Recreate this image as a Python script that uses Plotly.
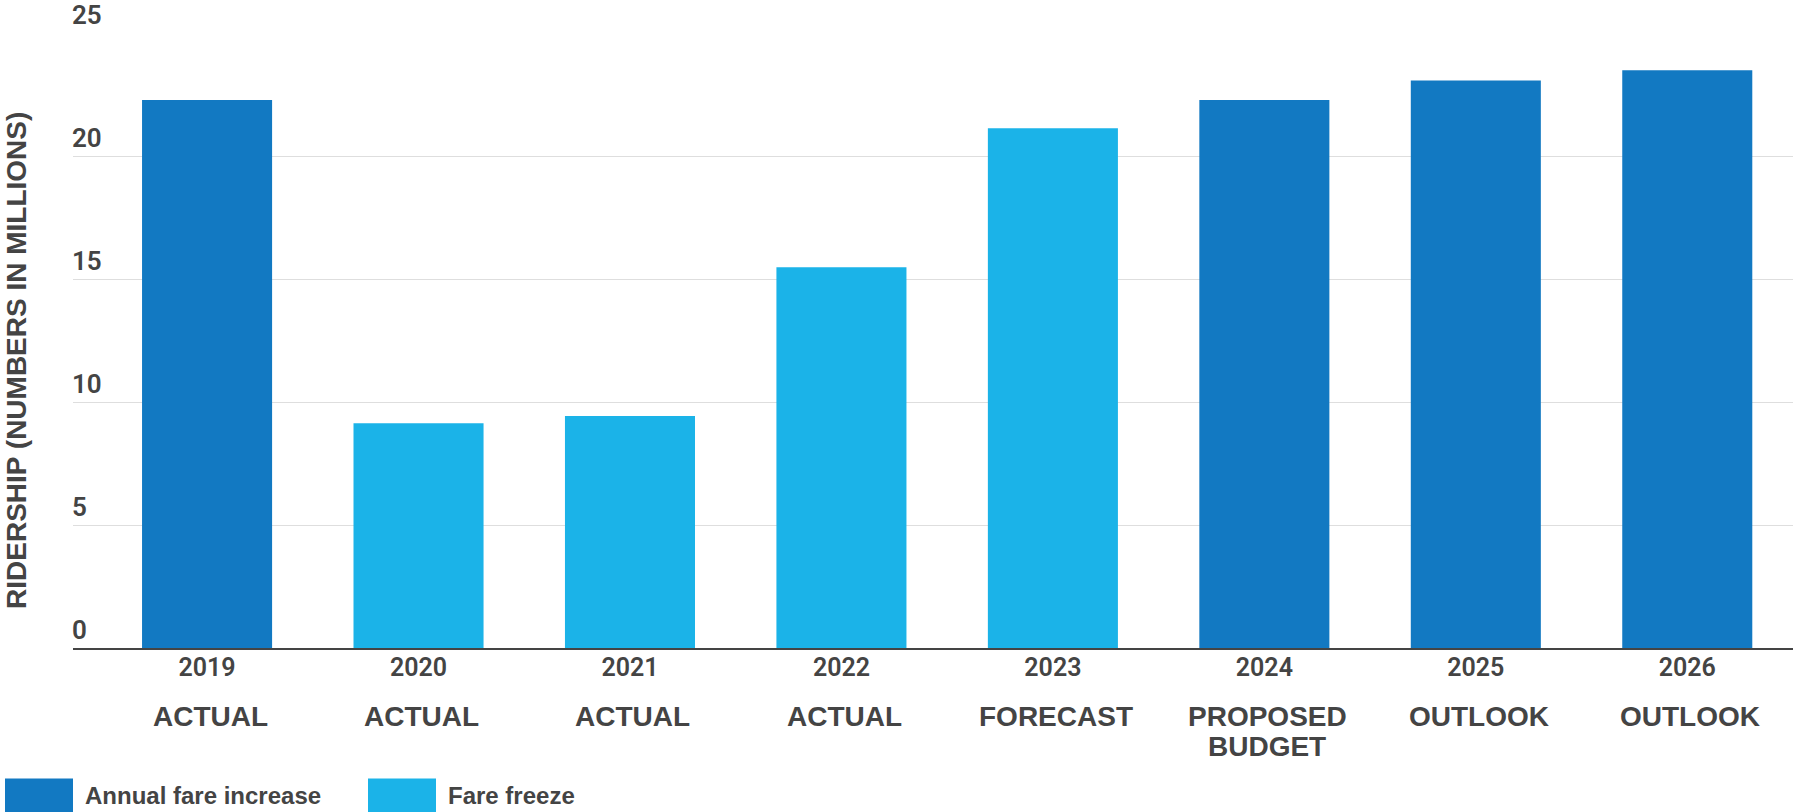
import plotly.graph_objects as go

# Annual ridership, millions of riders
years = ["2019", "2020", "2021", "2022", "2023", "2024", "2025", "2026"]
stages = [["ACTUAL"], ["ACTUAL"], ["ACTUAL"], ["ACTUAL"], ["FORECAST"],
          ["PROPOSED", "BUDGET"], ["OUTLOOK"], ["OUTLOOK"]]
ridership = [22.28, 9.14, 9.43, 15.48, 21.13, 22.28, 23.07, 23.49]
fare_policy = ["increase", "freeze", "freeze", "freeze", "freeze",
               "increase", "increase", "increase"]

y_ticks = [0, 5, 10, 15, 20, 25]
policy_names = {"increase": "Annual fare increase", "freeze": "Fare freeze"}
policy_colors = {"increase": "#1279C2", "freeze": "#1BB3E8"}

W, H = 1793, 812
L, R, T, B = 73, 0, 31, 164
PW, PH = W - L - R, H - T - B

TEXT = "#444444"
SANS = "Liberation Sans, Arial, sans-serif"
NUM = "Roboto, sans-serif"


def px(x):
    return (x - L) / PW


def py(y):
    return (H - B - y) / PH


fig = go.Figure(
    go.Bar(
        x=years,
        y=ridership,
        marker=dict(color=[policy_colors[p] for p in fare_policy], line=dict(width=0)),
        showlegend=False,
        hoverinfo="x+y",
    )
)

annotations = []
# stage descriptors under each year (category index positions on the x axis)
for idx, lines in enumerate(stages):
    for i, line in enumerate(lines):
        annotations.append(dict(
            x=idx, y=0, xref="x", yref="paper", text=f"<b>{line}</b>",
            showarrow=False, xanchor="center", yanchor="middle",
            xshift=3, yshift=-68 - 30 * i,
            font=dict(family=SANS, size=28, color=TEXT),
        ))

# vertical axis title
annotations.append(dict(
    x=px(17), y=py(360), xref="paper", yref="paper",
    text="<b>RIDERSHIP (NUMBERS IN MILLIONS)</b>", textangle=-90,
    showarrow=False, xanchor="center", yanchor="middle", borderpad=0,
    font=dict(family=SANS, size=28, color=TEXT),
))

# legend swatches and labels
shapes = []
legend_items = [("increase", 5, 73, 83), ("freeze", 368, 436, 446)]
for key, x0, x1, tx in legend_items:
    shapes.append(dict(
        type="rect", xref="paper", yref="paper",
        x0=px(x0), x1=px(x1), y0=py(779), y1=py(815),
        fillcolor=policy_colors[key], line=dict(width=0), layer="above",
    ))
    annotations.append(dict(
        x=px(tx), y=py(796), xref="paper", yref="paper",
        text=f"<b>{policy_names[key]}</b>", showarrow=False,
        xanchor="left", yanchor="middle",
        font=dict(family=SANS, size=24, color=TEXT),
    ))

fig.update_layout(
    width=W, height=H,
    margin=dict(l=L, r=R, t=T, b=B, pad=0),
    paper_bgcolor="white", plot_bgcolor="white",
    bargap=0.385,
    annotations=annotations,
    shapes=shapes,
    xaxis=dict(
        type="category",
        range=[-0.634, 7.5],
        showline=True, linecolor=TEXT, linewidth=2,
        showgrid=False, ticks="",
        tickfont=dict(family=NUM, size=25, color=TEXT, weight=600),
        ticklabelstandoff=-4,
        fixedrange=True,
    ),
    yaxis=dict(
        range=[0, 25],
        tickvals=y_ticks,
        ticktext=[str(v) for v in y_ticks],
        showgrid=True, gridcolor="#DEDEDE", gridwidth=1,
        zeroline=False, showline=False, ticks="",
        ticklabelposition="inside top",
        ticklabeloverflow="allow",
        tickfont=dict(family=NUM, size=26, color=TEXT, weight=600),
        ticklabelstandoff=-4,
        fixedrange=True,
    ),
)

fig.write_html("out.html", config={"displayModeBar": False})
